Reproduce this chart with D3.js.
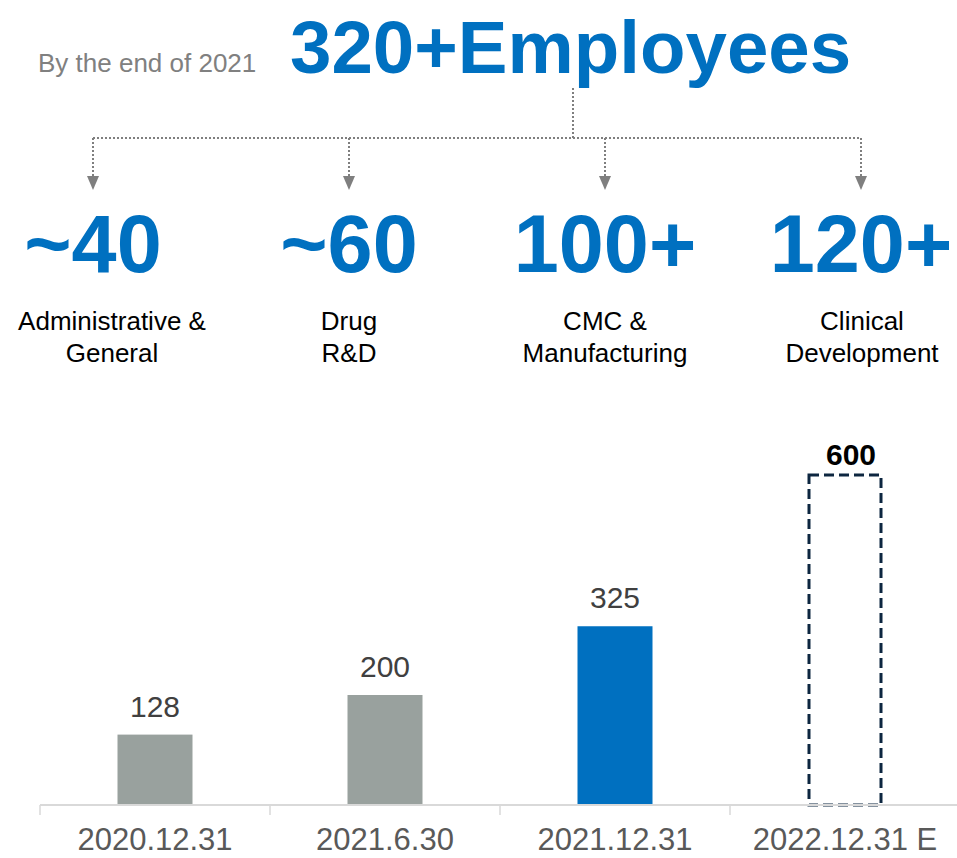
<!DOCTYPE html>
<html>
<head>
<meta charset="utf-8">
<script src="https://cdn.jsdelivr.net/npm/d3@7"></script>
<style>
  html, body { margin: 0; padding: 0; background: #ffffff; }
  svg { display: block; font-family: "Liberation Sans", Arial, sans-serif; }
</style>
</head>
<body>
<svg id="chart" width="957" height="858"></svg>
<script>
// Headcount headline
const headlineNote = "By the end of 2021";
const headlineTotal = "320+Employees";

// Headcount split by function
const deptCounts = ["~40", "~60", "100+", "120+"];
const deptLabels = [
  ["Administrative &", "General"],
  ["Drug", "R&D"],
  ["CMC &", "Manufacturing"],
  ["Clinical", "Development"]
];

// Headcount over time
const periods = ["2020.12.31", "2021.6.30", "2021.12.31", "2022.12.31 E"];
const headcount = [128, 200, 325, 600];
const isEstimate = [false, false, false, true];

const BLUE = "#0070c0";
const svg = d3.select("#chart");

// ---- Headline ----
svg.append("text")
  .attr("x", 38).attr("y", 72)
  .attr("font-size", 26).attr("fill", "#808080")
  .text(headlineNote);

svg.append("text")
  .attr("x", 290).attr("y", 73)
  .attr("font-size", 74.5).attr("font-weight", "bold").attr("fill", BLUE)
  .text(headlineTotal);

// ---- Department breakdown ----
const deptX = d3.scalePoint()
  .domain(d3.range(deptCounts.length))
  .range([93, 861]);
const deptCenters = [93, 349, 605, 861];

// dotted connector tree
const connector = svg.append("g")
  .attr("fill", "none")
  .attr("stroke", "#7f7f7f")
  .attr("stroke-width", 2)
  .attr("stroke-dasharray", "2,2");

connector.append("line")
  .attr("x1", 573).attr("x2", 573).attr("y1", 88).attr("y2", 138);
connector.append("line")
  .attr("x1", deptX(0)).attr("x2", deptX(deptCounts.length - 1))
  .attr("y1", 138).attr("y2", 138);
connector.selectAll("line.drop")
  .data(deptCounts)
  .join("line")
  .attr("class", "drop")
  .attr("x1", (d, i) => deptX(i)).attr("x2", (d, i) => deptX(i))
  .attr("y1", 138).attr("y2", 178);

svg.append("g").selectAll("path")
  .data(deptCounts)
  .join("path")
  .attr("fill", "#7f7f7f")
  .attr("d", (d, i) => {
    const x = deptX(i);
    return `M${x - 6},176 L${x + 6},176 L${x},190 Z`;
  });

svg.append("g").selectAll("text")
  .data(deptCounts)
  .join("text")
  .attr("x", (d, i) => deptCenters[i])
  .attr("y", 272)
  .attr("text-anchor", "middle")
  .attr("font-size", 81).attr("font-weight", "bold").attr("fill", BLUE)
  .text(d => d);

const labelCenters = [112, 349, 605, 862];
svg.append("g").selectAll("text")
  .data(deptLabels)
  .join("text")
  .attr("text-anchor", "middle")
  .attr("font-size", 26).attr("fill", "#000000")
  .each(function (lines, i) {
    d3.select(this).selectAll("tspan")
      .data(lines)
      .join("tspan")
      .attr("x", labelCenters[i])
      .attr("y", (l, j) => 330 + j * 32)
      .text(l => l);
  });

// ---- Headcount bar chart ----
const x = d3.scaleBand()
  .domain(periods)
  .range([40, 960])
  .paddingInner((230 - 75) / 230)
  .paddingOuter((230 - 75) / 230 / 2);

const y = d3.scaleLinear()
  .domain([0, 600])
  .range([805, 475]);

const bars = periods.map((p, i) => ({ period: p, value: headcount[i], estimate: isEstimate[i] }));

svg.append("g").selectAll("rect.bar")
  .data(bars.filter(d => !d.estimate))
  .join("rect")
  .attr("class", "bar")
  .attr("x", d => x(d.period))
  .attr("width", x.bandwidth())
  .attr("y", d => y(d.value))
  .attr("height", d => y(0) - y(d.value))
  .attr("fill", d => d.period === "2021.12.31" ? BLUE : "#99a19e");

svg.append("g").selectAll("rect.est")
  .data(bars.filter(d => d.estimate))
  .join("rect")
  .attr("class", "est")
  .attr("x", d => x(d.period) + 1.5)
  .attr("width", x.bandwidth() - 3)
  .attr("y", d => y(d.value))
  .attr("height", d => y(0) - y(d.value))
  .attr("fill", "none")
  .attr("stroke", "#0d2640")
  .attr("stroke-width", 3)
  .attr("stroke-dasharray", "10,5");

// x axis
const axis = svg.append("g")
  .attr("transform", `translate(0,${y(0)})`)
  .call(d3.axisBottom(x).tickSize(0).tickPadding(0).tickFormat(""));
axis.select(".domain").remove();
axis.append("line")
  .attr("x1", 40).attr("x2", 957)
  .attr("stroke", "#d9d9d9").attr("stroke-width", 2);

const step = x.step();
axis.selectAll("line.sep")
  .data(periods)
  .join("line")
  .attr("class", "sep")
  .attr("x1", d => x(d) - (step - x.bandwidth()) / 2)
  .attr("x2", d => x(d) - (step - x.bandwidth()) / 2)
  .attr("y1", 0).attr("y2", 10)
  .attr("stroke", "#d9d9d9").attr("stroke-width", 1.5);

svg.append("g").selectAll("text")
  .data(periods)
  .join("text")
  .attr("x", d => x(d) + x.bandwidth() / 2)
  .attr("y", 850)
  .attr("text-anchor", "middle")
  .attr("font-size", 31).attr("fill", "#595959")
  .text(d => d);

// value labels
svg.append("g").selectAll("text")
  .data(bars)
  .join("text")
  .attr("x", d => x(d.period) + x.bandwidth() / 2 + (d.estimate ? 6 : 0))
  .attr("y", d => y(d.value) - (d.estimate ? 10 : 18))
  .attr("text-anchor", "middle")
  .attr("font-size", 30)
  .attr("font-weight", d => d.estimate ? "bold" : "normal")
  .attr("fill", d => d.estimate ? "#000000" : "#404040")
  .text(d => d.value);
</script>
</body>
</html>
